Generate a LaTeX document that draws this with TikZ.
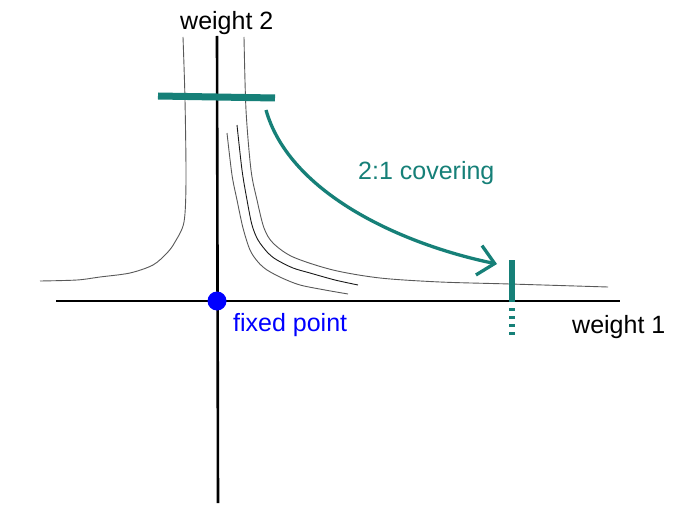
\documentclass[tikz,border=0pt]{standalone}
\usepackage{fontspec}
\setmainfont{Liberation Sans}
\usetikzlibrary{arrows.meta}
\definecolor{tealc}{RGB}{22,128,120}
\definecolor{dotblue}{RGB}{0,0,255}
\begin{document}
\begin{tikzpicture}[x=1pt,y=-1pt,
  axis/.style={line width=2.6pt, black},
  curve/.style={line width=0.9pt, black!65},
  lbl/.style={font=\fontsize{25}{30}\selectfont, inner sep=0pt, anchor=base west},
  tealbar/.style={line width=7pt, tealc},
  tickbar/.style={line width=6.5pt, tealc},
  covarrow/.style={tealc, line width=3.3pt, -{Straight Barb[length=16pt,width=30pt]}},
]
\useasboundingbox (0,0) rectangle (685,516);
\fill[white] (0,0) rectangle (685,516);

% axes
\coordinate (vtop) at (217,36);
\coordinate (vbot) at (218,503);
\coordinate (hl) at (56,301);
\coordinate (hr) at (620,301);
\draw[axis] (vtop) -- (vbot);
\draw[axis] (hl) -- (hr);

% hyperbola-like curves
\draw[curve] plot[smooth] coordinates {(183,37) (185,100) (186,180) (184,222) (175,242) (167,253) (153,265) (130,273) (100,277) (77,280) (40,281)};
\draw[curve] plot[smooth] coordinates {(244,37) (246,110) (251,170) (257,200) (264,228) (273,243) (293,257) (333,270) (380,278) (440,282) (510,284) (608,287)};
\draw[curve, black!90] plot[smooth] coordinates {(237,125) (242,170) (247,200) (252,225) (258,240) (268,253) (277,260) (293,268) (310,273) (335,280) (358,285)};
\draw[curve] plot[smooth] coordinates {(227,133) (232,175) (237,200) (243,228) (250,250) (258,262) (267,270) (282,278) (300,285) (325,290) (348,294)};

% teal bars
\coordinate (barL) at (158,96);
\coordinate (barR) at (275,98);
\draw[tealbar] (barL) -- (barR);
\coordinate (tickT) at (512,260);
\coordinate (tickB) at (512,302);
\draw[tickbar] (tickT) -- (tickB);
\coordinate (dashT) at (512,308);
\coordinate (dashB) at (512,339);
\draw[tickbar, dash pattern=on 3pt off 5pt] (dashT) -- (dashB);

% covering arrow
\coordinate (arcS) at (266,110);
\coordinate (arcE) at (497,264);
\draw[covarrow] (arcS) .. controls (290,195) and (405,245) .. (arcE);

% fixed point
\node[circle, fill=dotblue, minimum size=19pt, inner sep=0pt] (fp) at (217,301) {};

% labels
\node[lbl] (w2) at (180,30) {weight 2};
\node[lbl, text=dotblue] (fpl) at (233,331) {fixed point};
\node[lbl] (w1) at (572,333) {weight 1};
\node[lbl, text=tealc] (cov) at (358,179) {2:1 covering};
\end{tikzpicture}
\end{document}
